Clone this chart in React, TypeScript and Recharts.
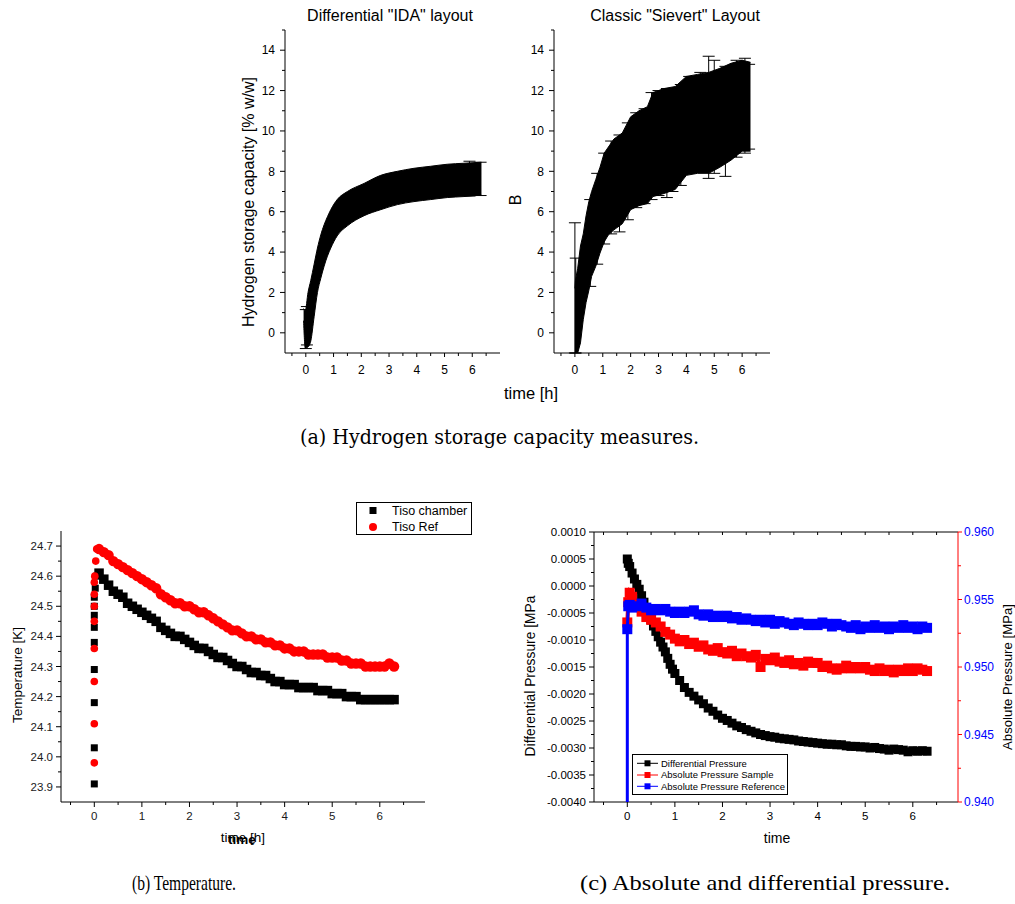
import React from 'react'
import { ComposedChart, Area, Scatter, ErrorBar, XAxis, YAxis } from 'recharts'

const SANS = '"Liberation Sans", Arial, Helvetica, sans-serif'
const SERIF = '"DejaVu Serif", "Liberation Serif", serif'
const NARROW_SERIF = '"Liberation Serif", "Times New Roman", serif'

// ---- (a) hydrogen storage capacity: lower / upper edge of the error-bar band ----
const idaTime = [-0.08, -0.02, 0.08, 0.18, 0.3, 0.42, 0.54, 0.66, 0.78, 0.9, 1.13, 1.5, 2.1, 2.7, 3.3, 3.9, 4.5, 5.1, 5.7, 6.33]
const idaLow = [0.6, -0.75, -0.7, -0.4, 0.8, 2.0, 2.7, 3.3, 3.8, 4.2, 4.8, 5.3, 5.8, 6.1, 6.35, 6.5, 6.6, 6.7, 6.75, 6.82]
const idaHigh = [1.2, 1.1, 2.0, 2.6, 3.4, 4.2, 4.85, 5.35, 5.75, 6.1, 6.6, 7.0, 7.4, 7.8, 8.0, 8.15, 8.25, 8.35, 8.4, 8.45]
const idaSpikeTime = [0.0, 0.04, 5.9, 6.3]
const idaSpikeLow = [-0.78, -0.6, 6.78, 6.8]
const idaSpikeHigh = [1.15, 1.3, 8.5, 8.45]

const sievTime = [0, 0.02, 0.1, 0.2, 0.3, 0.4, 0.5, 0.6, 0.75, 0.9, 1.05, 1.2, 1.4, 1.7, 2.0, 2.3, 2.6, 2.8, 3.2, 3.6, 4.0, 4.4, 4.8, 5.2, 5.6, 6.0, 6.3]
const sievLow = [-1, -1, -1, -0.5, 0.65, 1.5, 2.1, 2.8, 3.3, 3.95, 4.5, 4.85, 5.1, 5.4, 6.1, 6.3, 6.4, 6.75, 6.9, 7.1, 7.8, 7.9, 7.9, 8.2, 8.55, 9.0, 9.0]
const sievHigh = [2.2, 2.6, 3.2, 4.3, 4.9, 5.8, 6.5, 7.0, 7.6, 8.2, 8.9, 9.2, 9.6, 9.9, 10.7, 11.0, 11.2, 11.9, 12.1, 12.2, 12.7, 12.8, 12.9, 13.1, 13.35, 13.5, 13.4]
// single error bars that stick out of the band
const sievSpikeTime = [0, 0.03, 0.55, 0.8, 1.05, 1.3, 1.6, 1.9, 2.2, 2.5, 2.75, 3.0, 3.3, 3.5, 3.8, 4.1, 4.5, 4.8, 5.0, 5.4, 5.8, 6.1, 6.25]
const sievSpikeLow = [-1, -1, 2.3, 3.4, 4.4, 4.9, 5.0, 5.6, 6.2, 6.4, 6.6, 6.8, 6.7, 7.0, 7.3, 7.9, 8.0, 7.65, 7.9, 7.75, 8.7, 8.9, 9.1]
const sievSpikeHigh = [5.45, 3.7, 6.6, 7.9, 8.9, 9.5, 9.8, 10.4, 10.9, 11.1, 11.9, 12.0, 12.1, 12.0, 12.3, 12.7, 12.9, 13.7, 13.5, 13.2, 13.5, 13.6, 13.3]

// ---- (b) temperature ----
const chamberStartTime = [0, 0, 0, 0, 0, 0, 0, 0, 0, 0.02, 0.05]
const chamberStart = [23.91, 24.03, 24.18, 24.29, 24.38, 24.43, 24.47, 24.5, 24.53, 24.56, 24.6]
const refStartTime = [0, 0, 0, 0, 0, 0, 0, 0, 0.01, 0.03, 0.05]
const refStart = [23.98, 24.11, 24.25, 24.36, 24.45, 24.5, 24.54, 24.58, 24.6, 24.65, 24.69]
const tempTime = [
  0.1, 0.2, 0.3, 0.4, 0.5, 0.6, 0.7, 0.8, 0.9, 1.0,
  1.1, 1.2, 1.3, 1.4, 1.5, 1.6, 1.7, 1.8, 1.9, 2.0,
  2.1, 2.2, 2.3, 2.4, 2.5, 2.6, 2.7, 2.8, 2.9, 3.0,
  3.1, 3.2, 3.3, 3.4, 3.5, 3.6, 3.7, 3.8, 3.9, 4.0,
  4.1, 4.2, 4.3, 4.4, 4.5, 4.6, 4.7, 4.8, 4.9, 5.0,
  5.1, 5.2, 5.3, 5.4, 5.5, 5.6, 5.7, 5.8, 5.9, 6.0,
  6.1, 6.2, 6.3,
]
const tisoChamber = [
  24.61, 24.59, 24.57, 24.55, 24.54, 24.53, 24.51, 24.5, 24.49, 24.48,
  24.47, 24.46, 24.45, 24.43, 24.42, 24.41, 24.4, 24.4, 24.39, 24.38,
  24.37, 24.36, 24.36, 24.35, 24.34, 24.33, 24.33, 24.32, 24.31, 24.3,
  24.3, 24.29, 24.28, 24.28, 24.27, 24.27, 24.26, 24.25, 24.25, 24.24,
  24.24, 24.24, 24.23, 24.23, 24.23, 24.23, 24.22, 24.22, 24.22, 24.21,
  24.21, 24.21, 24.2, 24.2, 24.2, 24.19, 24.19, 24.19, 24.19, 24.19,
  24.19, 24.19, 24.19,
]
const tisoRef = [
  24.69, 24.68, 24.67, 24.65, 24.64, 24.63, 24.62, 24.61, 24.6, 24.59,
  24.58, 24.57, 24.56, 24.54, 24.53, 24.52, 24.51, 24.51, 24.5, 24.5,
  24.49, 24.48, 24.48, 24.47, 24.46, 24.45, 24.44, 24.43, 24.42, 24.42,
  24.41, 24.4, 24.4, 24.39, 24.39, 24.38, 24.38, 24.37, 24.37, 24.36,
  24.36, 24.35, 24.35, 24.35, 24.34, 24.34, 24.34, 24.34, 24.33, 24.33,
  24.33, 24.32, 24.32, 24.31, 24.31, 24.31, 24.3, 24.3, 24.3, 24.3,
  24.3, 24.31, 24.3,
]

// ---- (c) pressures ----
const diffTime = [
  0, 0.02, 0.05, 0.1, 0.15, 0.2, 0.25, 0.3, 0.35, 0.4, 0.45, 0.5,
  0.55, 0.6, 0.65, 0.7, 0.75, 0.8, 0.85, 0.9, 0.95, 1.0, 1.1, 1.2, 1.3, 1.4, 1.5, 1.6, 1.7, 1.8, 1.9, 2.0,
  2.1, 2.2, 2.3, 2.4, 2.5, 2.6, 2.7, 2.8, 2.9, 3.0, 3.1, 3.2, 3.3, 3.4, 3.5,
  3.6, 3.7, 3.8, 3.9, 4.0, 4.1, 4.2, 4.3, 4.4, 4.5, 4.6, 4.7, 4.8, 4.9, 5.0,
  5.1, 5.2, 5.3, 5.4, 5.5, 5.6, 5.7, 5.8, 5.9, 6.0, 6.1, 6.2, 6.3,
]
const diffPressure = [
  0.0005, 0.00042, 0.00036, 0.00024, 0.00013, 0.00003, -0.00006, -0.00018, -0.0003, -0.00041, -0.00052, -0.00063,
  -0.00074, -0.00084, -0.00094, -0.00104, -0.00113, -0.00122, -0.00134, -0.00145, -0.00154, -0.00162, -0.00175, -0.00188, -0.00197, -0.00204, -0.00211, -0.00218, -0.00226, -0.00232, -0.00239, -0.00245,
  -0.00249, -0.00254, -0.00259, -0.00262, -0.00266, -0.00269, -0.00272, -0.00275, -0.00277, -0.00279, -0.0028, -0.00282, -0.00283, -0.00284, -0.00285,
  -0.00287, -0.00288, -0.00289, -0.0029, -0.00291, -0.00292, -0.00293, -0.00293, -0.00294, -0.00294, -0.00296, -0.00297, -0.00297, -0.00298, -0.00298,
  -0.003, -0.00299, -0.00301, -0.00302, -0.00304, -0.00302, -0.00303, -0.00304, -0.00307, -0.00305, -0.00306, -0.00305, -0.00306,
]
const sampleTime = [
  0, 0.02, 0.05, 0.1, 0.2, 0.3, 0.4, 0.5,
  0.6, 0.7, 0.8, 0.9, 1.0, 1.1, 1.2, 1.3, 1.4, 1.5, 1.6, 1.7, 1.8, 1.9, 2.0,
  2.1, 2.2, 2.3, 2.4, 2.5, 2.6, 2.7, 2.8, 2.9, 3.0, 3.1, 3.2, 3.3, 3.4, 3.5,
  3.6, 3.7, 3.8, 3.9, 4.0, 4.1, 4.2, 4.3, 4.4, 4.5, 4.6, 4.7, 4.8, 4.9, 5.0,
  5.1, 5.2, 5.3, 5.4, 5.5, 5.6, 5.7, 5.8, 5.9, 6.0, 6.1, 6.2, 6.3,
]
const absSample = [
  0.9533, 0.9548, 0.9555, 0.9552, 0.9545, 0.9541, 0.9537, 0.9535,
  0.9533, 0.953, 0.9526, 0.9524, 0.9521, 0.9519, 0.952, 0.9517, 0.9518, 0.9515, 0.9516, 0.9513, 0.9512, 0.9514, 0.9511,
  0.951, 0.9512, 0.9508, 0.951, 0.9508, 0.9507, 0.9509, 0.95, 0.9506, 0.9505, 0.9507, 0.9504, 0.9503, 0.9505, 0.9502,
  0.9503, 0.9501, 0.9504, 0.9503, 0.9503, 0.95, 0.9501, 0.9499, 0.9498, 0.9499, 0.9501, 0.9499, 0.95, 0.9499, 0.95,
  0.9498, 0.9497, 0.9499, 0.9497, 0.9498, 0.9496, 0.9498, 0.9497, 0.9499, 0.9497, 0.9499, 0.9498, 0.9497,
]
const refTime = [
  0, 0, 0.02, 0.05, 0.1, 0.2, 0.3, 0.4, 0.5,
  0.6, 0.7, 0.8, 0.9, 1.0, 1.1, 1.2, 1.3, 1.4, 1.5, 1.6, 1.7, 1.8, 1.9, 2.0,
  2.1, 2.2, 2.3, 2.4, 2.5, 2.6, 2.7, 2.8, 2.9, 3.0, 3.1, 3.2, 3.3, 3.4, 3.5,
  3.6, 3.7, 3.8, 3.9, 4.0, 4.1, 4.2, 4.3, 4.4, 4.5, 4.6, 4.7, 4.8, 4.9, 5.0,
  5.1, 5.2, 5.3, 5.4, 5.5, 5.6, 5.7, 5.8, 5.9, 6.0, 6.1, 6.2, 6.3,
]
const absReference = [
  0.93, 0.9528, 0.9545, 0.9546, 0.9544, 0.9545, 0.9547, 0.9544, 0.9542,
  0.9543, 0.9542, 0.9543, 0.9541, 0.954, 0.9541, 0.954, 0.9541, 0.9542, 0.9539, 0.9538, 0.9539, 0.9537, 0.9538, 0.9537,
  0.9538, 0.9536, 0.9537, 0.9535, 0.9536, 0.9535, 0.9534, 0.9535, 0.9533, 0.9535, 0.9532, 0.9534, 0.9533, 0.9532, 0.9531,
  0.9533, 0.9532, 0.9531, 0.9532, 0.9531, 0.9533, 0.9532, 0.953, 0.9532, 0.9531, 0.953, 0.9529, 0.9531, 0.9528, 0.953,
  0.9529, 0.9531, 0.9529, 0.953, 0.9528, 0.953, 0.9529, 0.9531, 0.9529, 0.953, 0.9528, 0.953, 0.9529,
]

// ---- ticks ----
const halfHours = [-0.5, 0, 0.5, 1, 1.5, 2, 2.5, 3, 3.5, 4, 4.5, 5, 5.5, 6, 6.5]
const hours = [0, 1, 2, 3, 4, 5, 6]
const capTicks = [0, 1, 2, 3, 4, 5, 6, 7, 8, 9, 10, 11, 12, 13, 14, 15]
const capMajor = [0, 2, 4, 6, 8, 10, 12, 14]
const tempTicks = [23.9, 23.95, 24.0, 24.05, 24.1, 24.15, 24.2, 24.25, 24.3, 24.35, 24.4, 24.45, 24.5, 24.55, 24.6, 24.65, 24.7]
const tempMajor = [23.9, 24.0, 24.1, 24.2, 24.3, 24.4, 24.5, 24.6, 24.7]
const diffTicks = [-0.004, -0.00375, -0.0035, -0.00325, -0.003, -0.00275, -0.0025, -0.00225, -0.002, -0.00175, -0.0015, -0.00125, -0.001, -0.00075, -0.0005, -0.00025, 0, 0.00025, 0.0005, 0.00075, 0.001]
const diffMajor = [-0.004, -0.0035, -0.003, -0.0025, -0.002, -0.0015, -0.001, -0.0005, 0, 0.0005, 0.001]
const absTicks = [0.94, 0.9425, 0.945, 0.9475, 0.95, 0.9525, 0.955, 0.9575, 0.96]
const absMajor = [0.94, 0.945, 0.95, 0.955, 0.96]

const zip = (ts: number[], vs: number[]) => ts.map((t, i) => ({ t, v: vs[i] }))
const band = (ts: number[], lo: number[], hi: number[]) => ts.map((t, i) => ({ t, lo: lo[i], hi: hi[i] }))
const bars = (ts: number[], lo: number[], hi: number[]) =>
  ts.map((t, i) => ({ t, v: (lo[i] + hi[i]) / 2, err: [(hi[i] - lo[i]) / 2, (hi[i] - lo[i]) / 2] }))

type TickCfg = {
  side: 'left' | 'right' | 'bottom' | 'top'
  major: number[]
  fmt?: (v: number) => string
  fontSize?: number
  fill?: string
  stroke?: string
  majorLen: number
  minorLen: number
  gap?: number
}

const makeTick = (c: TickCfg) => (props: any) => {
  const { x, y, payload } = props
  const v = Number(payload.value)
  const isMajor = c.major.some((m) => Math.abs(m - v) < 1e-9)
  const len = isMajor ? c.majorLen : c.minorLen
  const stroke = c.stroke || '#000'
  const txt = isMajor && c.fmt ? c.fmt(v) : null
  const tp = { fontFamily: SANS, fontSize: c.fontSize, fill: c.fill || '#000' }
  const gap = c.gap || 0
  if (c.side === 'left') {
    return (
      <g>
        <line x1={x} y1={y} x2={x - len} y2={y} stroke={stroke} />
        {txt && <text x={x - gap} y={y} dy="0.35em" textAnchor="end" {...tp}>{txt}</text>}
      </g>
    )
  }
  if (c.side === 'right') {
    return (
      <g>
        <line x1={x} y1={y} x2={x + len} y2={y} stroke={stroke} />
        {txt && <text x={x + gap} y={y} dy="0.35em" textAnchor="start" {...tp}>{txt}</text>}
      </g>
    )
  }
  // bottom and top both hang the mark downwards
  return (
    <g>
      <line x1={x} y1={y} x2={x} y2={y + len} stroke={stroke} />
      {txt && <text x={x} y={y + gap} textAnchor="middle" {...tp}>{txt}</text>}
    </g>
  )
}

const squareShape = (size: number, fill: string) => (p: any) =>
  <rect x={p.cx - size / 2} y={p.cy - size / 2} width={size} height={size} fill={fill} />
const circleShape = (r: number, fill: string) => (p: any) => <circle cx={p.cx} cy={p.cy} r={r} fill={fill} />
const noShape = () => <g />

const axisCommon = { type: 'number' as const, allowDataOverflow: true, interval: 0 as const, tickSize: 0, tickMargin: 0, tickLine: false }

function CapacityChart({ left, width, yWidth, rows, spikes, curve }: any) {
  return (
    <div style={{ position: 'absolute', left, top: 0 }}>
      <ComposedChart width={width} height={380} data={rows} margin={{ top: 30, right: 10, bottom: 0, left: 0 }}>
        <XAxis
          {...axisCommon}
          dataKey="t"
          domain={[-0.75, 7]}
          ticks={halfHours}
          height={27}
          axisLine={{ stroke: '#000' }}
          tick={makeTick({ side: 'bottom', major: hours, fmt: String, fontSize: 12, majorLen: 4, minorLen: 3, gap: 21 })}
        />
        <YAxis
          {...axisCommon}
          dataKey="v"
          domain={[-1, 15]}
          ticks={capTicks}
          width={yWidth}
          axisLine={{ stroke: '#000' }}
          tick={makeTick({ side: 'left', major: capMajor, fmt: String, fontSize: 12, majorLen: 5, minorLen: 3, gap: 10 })}
        />
        <Area
          type={curve}
          dataKey={(d: any) => [d.lo, d.hi]}
          stroke="#000"
          strokeWidth={1}
          fill="#000"
          fillOpacity={1}
          isAnimationActive={false}
        />
        <Scatter data={spikes} dataKey="v" shape={noShape} isAnimationActive={false}>
          <ErrorBar dataKey="err" direction="y" width={6} stroke="#000" strokeWidth={1} isAnimationActive={false} />
        </Scatter>
      </ComposedChart>
    </div>
  )
}

function TemperatureChart() {
  return (
    <div style={{ position: 'absolute', left: 0, top: 495 }}>
      <ComposedChart width={480} height={340} margin={{ top: 36, right: 55, bottom: 0, left: 0 }}>
        <XAxis
          {...axisCommon}
          dataKey="t"
          domain={[-0.7, 6.95]}
          ticks={halfHours}
          height={33}
          axisLine={{ stroke: '#000' }}
          tick={makeTick({ side: 'bottom', major: hours, fmt: String, fontSize: 11.5, fill: '#1a1a1a', majorLen: 5, minorLen: 3, gap: 18 })}
        />
        <YAxis
          {...axisCommon}
          dataKey="v"
          domain={[23.85, 24.75]}
          ticks={tempTicks}
          width={61}
          axisLine={{ stroke: '#000' }}
          tick={makeTick({ side: 'left', major: tempMajor, fmt: (v) => v.toFixed(1), fontSize: 11.5, fill: '#1a1a1a', majorLen: 5, minorLen: 3, gap: 8 })}
        />
        <Scatter data={zip(chamberStartTime, chamberStart)} dataKey="v" shape={squareShape(7, '#000')} isAnimationActive={false} />
        <Scatter data={zip(tempTime, tisoChamber)} dataKey="v" shape={squareShape(9.5, '#000')} isAnimationActive={false} />
        <Scatter data={zip(refStartTime, refStart)} dataKey="v" shape={circleShape(3.8, '#ff0000')} isAnimationActive={false} />
        <Scatter data={zip(tempTime, tisoRef)} dataKey="v" shape={circleShape(5.2, '#ff0000')} isAnimationActive={false} />
      </ComposedChart>
    </div>
  )
}

function PressureChart() {
  return (
    <div style={{ position: 'absolute', left: 510, top: 500 }}>
      <ComposedChart width={505} height={335} margin={{ top: 31, right: 0, bottom: 0, left: 0 }}>
        <XAxis
          {...axisCommon}
          dataKey="t"
          domain={[-0.7, 6.95]}
          ticks={halfHours}
          height={33}
          axisLine={{ stroke: '#000' }}
          tick={makeTick({ side: 'bottom', major: hours, fmt: String, fontSize: 11.5, majorLen: 5, minorLen: 3, gap: 18 })}
        />
        <XAxis
          {...axisCommon}
          xAxisId="top"
          orientation="top"
          dataKey="t"
          domain={[-0.7, 6.95]}
          ticks={halfHours}
          height={1}
          axisLine={{ stroke: '#000' }}
          tick={makeTick({ side: 'top', major: hours, majorLen: 3, minorLen: 3 })}
        />
        <YAxis
          {...axisCommon}
          yAxisId="left"
          dataKey="v"
          domain={[-0.004, 0.001]}
          ticks={diffTicks}
          width={84}
          axisLine={{ stroke: '#000' }}
          tick={makeTick({ side: 'left', major: diffMajor, fmt: (v) => v.toFixed(4), fontSize: 11.5, majorLen: 5, minorLen: 3, gap: 8 })}
        />
        <YAxis
          {...axisCommon}
          yAxisId="right"
          orientation="right"
          dataKey="v"
          domain={[0.94, 0.96]}
          ticks={absTicks}
          width={57}
          axisLine={{ stroke: '#ff0000' }}
          tick={makeTick({ side: 'right', major: absMajor, fmt: (v) => v.toFixed(3), fontSize: 12, fill: '#0000ff', stroke: '#ff0000', majorLen: 4, minorLen: 3, gap: 6 })}
        />
        <Scatter
          yAxisId="left"
          data={zip(diffTime, diffPressure)}
          dataKey="v"
          fill="#000"
          line={{ stroke: '#000', strokeWidth: 4 }}
          lineType="joint"
          shape={squareShape(9, '#000')}
          isAnimationActive={false}
        />
        <Scatter
          yAxisId="right"
          data={zip(sampleTime, absSample)}
          dataKey="v"
          fill="#ff0000"
          line={{ stroke: '#ff0000', strokeWidth: 4 }}
          lineType="joint"
          shape={squareShape(10, '#ff0000')}
          isAnimationActive={false}
        />
        <Scatter
          yAxisId="right"
          data={zip(refTime, absReference)}
          dataKey="v"
          fill="#0000ff"
          line={{ stroke: '#0000ff', strokeWidth: 3 }}
          lineType="joint"
          shape={squareShape(10, '#0000ff')}
          isAnimationActive={false}
        />
      </ComposedChart>
    </div>
  )
}

function Annotations() {
  const rot = (x: number, y: number) => `translate(${x},${y}) rotate(-90)`
  return (
    <svg width={1015} height={904} style={{ position: 'absolute', left: 0, top: 0, pointerEvents: 'none' }}>
      <g fontFamily={SANS} fill="#000">
        <text x={390} y={21} fontSize={16} textAnchor="middle">{'Differential "IDA" layout'}</text>
        <text x={675} y={21} fontSize={16} textAnchor="middle">{'Classic "Sievert" Layout'}</text>
        <text transform={rot(248, 202)} fontSize={16} textAnchor="middle" dy="0.35em">Hydrogen storage capacity [% w/w]</text>
        <text transform={rot(515, 200)} fontSize={16} textAnchor="middle" dy="0.35em">B</text>
        <text x={531} y={399} fontSize={16.5} textAnchor="middle">time [h]</text>

        <text transform={rot(17, 675)} fontSize={13.5} textAnchor="middle" dy="0.35em">Temperature [K]</text>
        <text x={243} y={842} fontSize={13.5} textAnchor="middle">time [h]</text>
        <text x={242} y={844} fontSize={13.5} fontWeight="bold" textAnchor="middle">time</text>

        <rect x={356.5} y={502.5} width={115} height={32} fill="#fff" stroke="#000" strokeWidth={1} />
        <rect x={369.5} y={507} width={7} height={7} fill="#000" />
        <text x={392} y={515} fontSize={12.5}>Tiso chamber</text>
        <circle cx={373} cy={527} r={4} fill="#ff0000" />
        <text x={392} y={531} fontSize={12.5}>Tiso Ref</text>

        <text transform={rot(530, 676)} fontSize={13.8} textAnchor="middle" dy="0.35em">Differential Pressure [MPa</text>
        <text transform={rot(1007, 677)} fontSize={13.2} textAnchor="middle" dy="0.35em">Absolute Pressure [MPa]</text>
        <text x={777} y={843} fontSize={14} textAnchor="middle">time</text>

        <rect x={632.5} y={754.5} width={155} height={40} fill="#fff" stroke="#000" strokeWidth={1} />
        {[
          { c: '#000', y: 763.3, label: 'Differential Pressure' },
          { c: '#ff0000', y: 775, label: 'Absolute Pressure Sample' },
          { c: '#0000ff', y: 786.3, label: 'Absolute Pressure Reference' },
        ].map((e) => (
          <g key={e.label}>
            <line x1={637} y1={e.y} x2={658} y2={e.y} stroke={e.c} strokeWidth={1} />
            <rect x={644.5} y={e.y - 3} width={6} height={6} fill={e.c} />
            <text x={661} y={e.y} dy="0.35em" fontSize={9.5}>{e.label}</text>
          </g>
        ))}
      </g>
      <g fill="#000">
        <text x={300} y={444} fontFamily={SERIF} fontSize={19.5} textLength={399} lengthAdjust="spacingAndGlyphs">(a) Hydrogen storage capacity measures.</text>
        <text x={132} y={890} fontFamily={NARROW_SERIF} fontSize={21} textLength={104} lengthAdjust="spacingAndGlyphs">(b) Temperature.</text>
        <text x={580} y={890} fontFamily={NARROW_SERIF} fontSize={21} textLength={370} lengthAdjust="spacingAndGlyphs">(c) Absolute and differential pressure.</text>
      </g>
    </svg>
  )
}

export default function App() {
  return (
    <div style={{ position: 'absolute', left: 0, top: 0, width: 1015, height: 904, background: '#fff', fontFamily: SANS }}>
      <CapacityChart
        left={230}
        width={280}
        yWidth={55}
        rows={band(idaTime, idaLow, idaHigh)}
        spikes={bars(idaSpikeTime, idaSpikeLow, idaSpikeHigh)}
        curve="monotone"
      />
      <CapacityChart
        left={505}
        width={275}
        yWidth={49}
        rows={band(sievTime, sievLow, sievHigh)}
        spikes={bars(sievSpikeTime, sievSpikeLow, sievSpikeHigh)}
        curve="linear"
      />
      <TemperatureChart />
      <PressureChart />
      <Annotations />
    </div>
  )
}
